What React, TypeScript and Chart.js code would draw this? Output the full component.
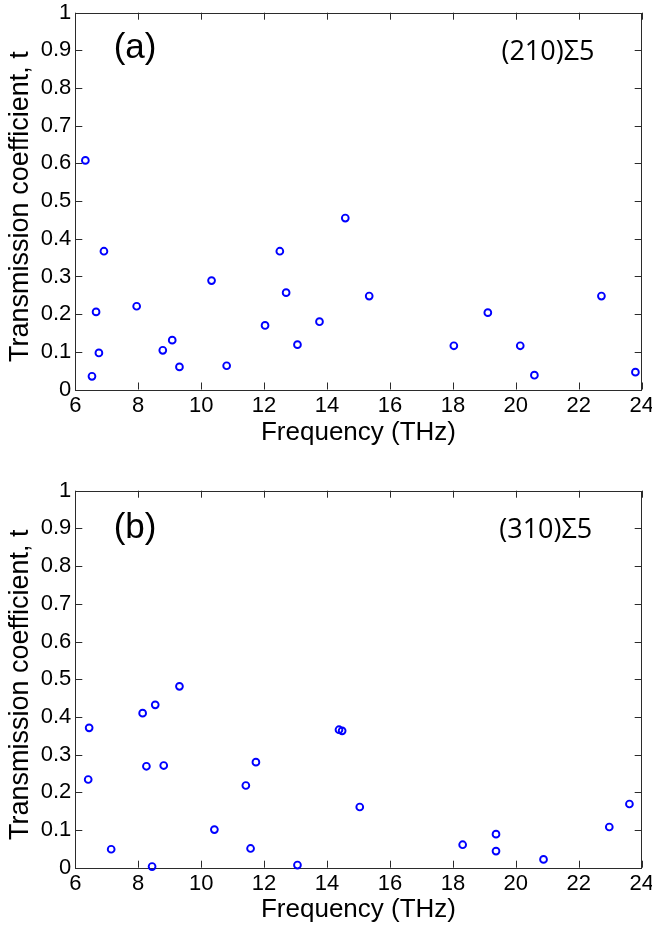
import React, { useEffect, useRef } from 'react';
import { Chart, registerables } from 'chart.js';

Chart.register(...registerables);

// ---- data ----
const xMin = 6;
const xMax = 24;
const xStep = 2;
const yMin = 0;
const yMax = 1;
const yStep = 0.1;

const xTitle = 'Frequency (THz)';
const yTitle = 'Transmission coefficient, t';

const freqA = [6.32, 6.53, 6.66, 6.75, 6.91, 7.95, 8.78, 9.08, 9.31, 10.33, 10.81, 12.03, 12.5, 12.7, 13.06, 13.76, 14.58, 15.34, 18.03, 19.11, 20.14, 20.59, 22.72, 23.8];
const transA = [0.608, 0.035, 0.206, 0.097, 0.367, 0.221, 0.104, 0.131, 0.06, 0.289, 0.063, 0.17, 0.367, 0.257, 0.119, 0.18, 0.455, 0.248, 0.116, 0.204, 0.116, 0.038, 0.248, 0.046];

const freqB = [6.44, 6.41, 7.14, 8.14, 8.26, 8.44, 8.54, 8.81, 9.31, 10.42, 11.42, 11.57, 11.74, 13.06, 14.38, 14.48, 15.04, 18.31, 19.37, 19.37, 20.88, 22.97, 23.61];
const transB = [0.371, 0.234, 0.049, 0.41, 0.269, 0.003, 0.432, 0.271, 0.481, 0.101, 0.218, 0.051, 0.28, 0.007, 0.366, 0.363, 0.161, 0.061, 0.089, 0.044, 0.022, 0.108, 0.169];

const panelLabels = ['(a)', '(b)'];
const panelLabelPos = [[7.9, 0.905], [7.9, 0.9]];
const gbLabels = ['(210)Σ5', '(310)Σ5'];
const gbLabelPos = [[21.02, 0.895], [20.95, 0.895]];

const SANS = '"Liberation Sans", Arial, sans-serif';
const AXIS_COLOR = '#2b2b2b';

const framePlugin = {
  id: 'matlabFrame',
  beforeDatasetsDraw(chart: any) {
    const { ctx, chartArea: a, scales } = chart;
    const tl = 7;
    ctx.save();
    ctx.strokeStyle = AXIS_COLOR;
    ctx.lineWidth = 1;
    ctx.beginPath();
    scales.x.ticks.forEach((t: any) => {
      const px = Math.round(scales.x.getPixelForValue(t.value)) + 0.5;
      ctx.moveTo(px, a.bottom);
      ctx.lineTo(px, a.bottom - tl);
      ctx.moveTo(px, a.top);
      ctx.lineTo(px, a.top + tl);
    });
    scales.y.ticks.forEach((t: any) => {
      const py = Math.round(scales.y.getPixelForValue(t.value)) + 0.5;
      ctx.moveTo(a.left, py);
      ctx.lineTo(a.left + tl, py);
      ctx.moveTo(a.right, py);
      ctx.lineTo(a.right - tl, py);
    });
    ctx.stroke();
    ctx.strokeRect(Math.round(a.left) + 0.5, Math.round(a.top) + 0.5, Math.round(a.right - a.left), Math.round(a.bottom - a.top));
    ctx.restore();
  },
  afterDraw(chart: any) {
    const opts = chart.options.plugins.matlabFrame;
    const { ctx, scales, chartArea: a } = chart;
    ctx.save();
    ctx.fillStyle = '#000';
    ctx.textAlign = 'center';
    ctx.textBaseline = 'middle';
    ctx.font = `35px ${SANS}`;
    ctx.fillText(opts.panel, scales.x.getPixelForValue(opts.panelPos[0]), scales.y.getPixelForValue(opts.panelPos[1]));
    ctx.font = `27px "Open Sans", "Noto Sans", sans-serif`;
    ctx.fillText(opts.gb, scales.x.getPixelForValue(opts.gbPos[0]), scales.y.getPixelForValue(opts.gbPos[1]));
    // y axis title
    ctx.save();
    ctx.translate(21, (a.top + a.bottom) / 2 + 5.5);
    ctx.rotate(-Math.PI / 2);
    ctx.font = `27px ${SANS}`;
    ctx.fillText(opts.yTitle, 0, 0);
    ctx.restore();
    ctx.restore();
  },
};

type PanelProps = {
  xs: number[];
  ys: number[];
  idx: number;
  height: number;
  padTop: number;
  xAxisHeight: number;
  xTitlePad: number;
};

function Panel({ xs, ys, idx, height, padTop, xAxisHeight, xTitlePad }: PanelProps) {
  const ref = useRef<HTMLCanvasElement | null>(null);
  useEffect(() => {
    if (!ref.current) return;
    const chart = new Chart(ref.current, {
      type: 'scatter',
      data: {
        datasets: [
          {
            data: xs.map((x, i) => ({ x, y: ys[i] })),
            pointStyle: 'circle',
            pointRadius: 3.4,
            pointBorderWidth: 1.9,
            pointBorderColor: '#0000ff',
            pointBackgroundColor: 'rgba(0,0,0,0)',
            showLine: false,
            clip: false,
          } as any,
        ],
      },
      options: {
        responsive: false,
        animation: false,
        devicePixelRatio: 1,
        layout: { padding: { left: 0, right: 10.3, top: padTop, bottom: 0 } },
        plugins: {
          legend: { display: false },
          tooltip: { enabled: false },
          matlabFrame: {
            panel: panelLabels[idx],
            panelPos: panelLabelPos[idx],
            gb: gbLabels[idx],
            gbPos: gbLabelPos[idx],
            yTitle,
          },
        } as any,
        scales: {
          x: {
            type: 'linear',
            min: xMin,
            max: xMax,
            grid: { display: false, drawTicks: false },
            border: { display: false },
            ticks: { stepSize: xStep, color: '#000', font: { size: 22, family: SANS }, padding: 3.5, maxRotation: 0 },
            title: { display: true, text: xTitle, color: '#000', font: { size: 26, family: SANS }, padding: { top: 0, bottom: xTitlePad } },
            afterFit: (s: any) => {
              s.height = xAxisHeight;
              s.paddingLeft = 0;
              s.paddingRight = 0;
            },
          },
          y: {
            type: 'linear',
            min: yMin,
            max: yMax,
            grid: { display: false, drawTicks: false },
            border: { display: false },
            ticks: {
              stepSize: yStep,
              color: '#000',
              font: { size: 22, family: SANS },
              padding: 4,
              callback: (v: any) => String(Number(Number(v).toFixed(2))),
            },
            title: { display: false },
            afterFit: (s: any) => {
              s.width = 75.3;
              s.paddingTop = 0;
              s.paddingBottom = 0;
            },
          },
        },
      },
      plugins: [framePlugin],
    });
    return () => chart.destroy();
  }, []);
  return <canvas ref={ref} width={652} height={height} style={{ display: 'block', width: 652, height }} />;
}

export default function App() {
  return (
    <div style={{ position: 'absolute', left: 0, top: 0, width: 652, height: 930, background: '#fff' }}>
      <Panel xs={freqA} ys={transA} idx={0} height={465} padTop={12.7} xAxisHeight={75.5} xTitlePad={16.4} />
      <Panel xs={freqB} ys={transB} idx={1} height={465} padTop={25.7} xAxisHeight={62.3} xTitlePad={4.4} />
    </div>
  );
}
